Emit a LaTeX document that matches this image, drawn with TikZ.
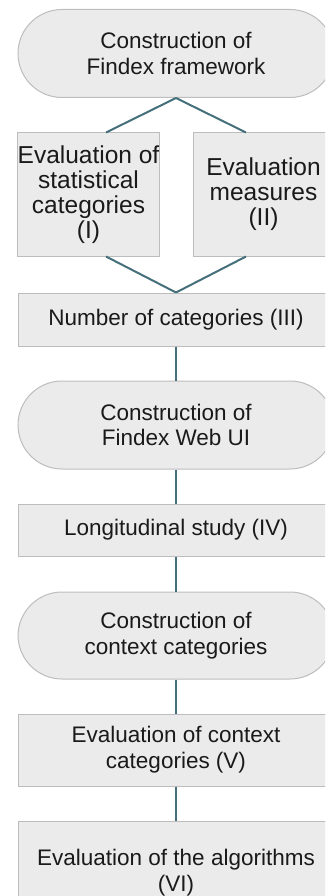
\documentclass[tikz,border=0pt]{standalone}
\usepackage{fontspec}
\setmainfont{Liberation Sans}
\usetikzlibrary{positioning}
\definecolor{boxfill}{HTML}{EBEBEB}
\definecolor{boxrule}{HTML}{BDBDBD}
\definecolor{linkline}{HTML}{45707B}
\definecolor{boxtext}{HTML}{1A1A1A}

\begin{document}
\begin{tikzpicture}[
  x=1pt, y=1pt,
  every node/.style={align=center, text=boxtext,
    font=\fontsize{22.5}{25.7}\selectfont},
  start/.style={
    rectangle, draw=boxrule, line width=1pt,
    fill=boxfill,
    rounded corners=44pt,
    minimum width=316pt, minimum height=88pt,
    inner sep=0pt
  },
  task/.style={
    rectangle, draw=boxrule, line width=1pt,
    fill=boxfill,
    minimum width=316pt, minimum height=53pt,
    inner sep=0pt
  },
  subtask/.style={
    task,
    minimum width=141pt, minimum height=123pt,
    font=\fontsize{24.5}{25}\selectfont
  },
  link/.style={line width=2pt, color=linkline}
]

% =============================================================================
% Page frame (units = pt, y runs down as negative). Right and bottom edges
% cut the boxes the same way the original does.
% =============================================================================
\useasboundingbox (0,0) rectangle (325,-896);
\clip (0,0) rectangle (325,-896);

% --- Framework and its two evaluations
\node[start] (framework) at (176,-53.5) {%
  Construction of\\Findex framework
};
\node[subtask] (statcat) at (88.5,-194.5) {%
  Evaluation of\\statistical\\categories\\(I)
};
\node[subtask] (measures) at (263.5,-194.5) {%
  Evaluation\\measures\\(II)
};
\node[task] (numcat) at (176,-319.5) {Number of categories (III)};

% --- Web UI
\node[start] (webui) at (176,-425) {%
  Construction of\\Findex Web UI
};
\node[task, minimum height=52pt] (longit) at (176,-530) {Longitudinal study (IV)};

% --- Context categories
\node[start, minimum height=87pt] (context) at (176,-635.5) {%
  Construction of\\context categories
};
\node[task, minimum height=72pt] (evalctx) at (176,-750) {%
  Evaluation of context\\categories (V)
};
\node[task, minimum height=104pt] (algos) at (176,-873) {%
  Evaluation of the algorithms\\(VI)
};

% =============================================================================
% Links
% =============================================================================
\draw[link] (framework.south) -- ([xshift=17.5pt]statcat.north);
\draw[link] (framework.south) -- ([xshift=-17.5pt]measures.north);
\draw[link] ([xshift=17.5pt]statcat.south) -- (numcat.north);
\draw[link] ([xshift=-17.5pt]measures.south) -- (numcat.north);
\draw[link] (numcat.south) -- (webui.north);
\draw[link] (webui.south) -- (longit.north);
\draw[link] (longit.south) -- (context.north);
\draw[link] (context.south) -- (evalctx.north);
\draw[link] (evalctx.south) -- (algos.north);

\end{tikzpicture}
\end{document}
